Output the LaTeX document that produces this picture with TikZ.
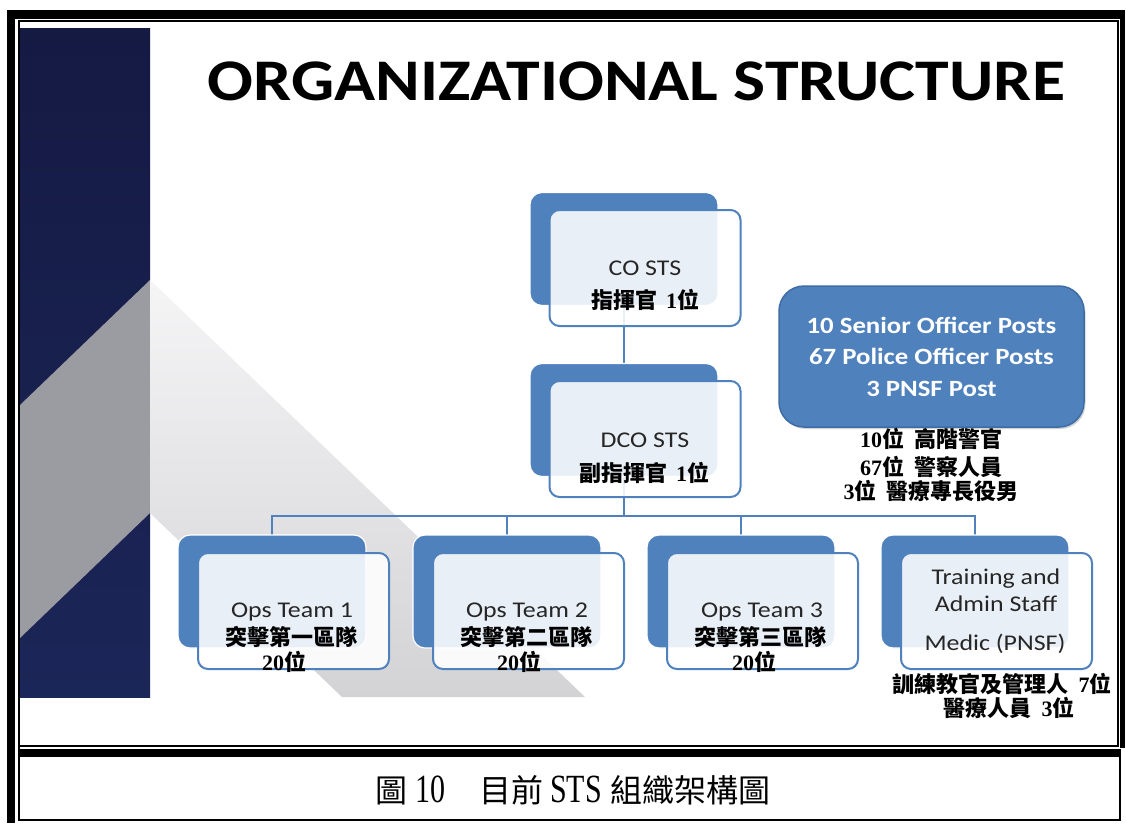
\documentclass[tikz,border=0pt]{standalone}
\usepackage{fontspec}
\usetikzlibrary{shadows}
\setmainfont{Liberation Serif}
\newfontfamily\calib[FakeStretch=1.15]{Carlito}
\newfontfamily\zhf{Noto Sans CJK TC}
\newfontfamily\tms{Liberation Serif}
\newfontfamily\capl[FakeStretch=0.75]{Liberation Serif}
\definecolor{blueA}{HTML}{4F81BD}
\definecolor{bigedge}{HTML}{3E6DA6}
\definecolor{navyT}{HTML}{151A43}
\definecolor{navyB}{HTML}{1B2658}
\definecolor{midgray}{HTML}{9B9CA1}
\definecolor{lgT}{HTML}{F5F5F6}
\definecolor{lgB}{HTML}{D3D3D6}
\definecolor{txt}{HTML}{262626}
\pgfdeclarelayer{slidebg}
\pgfdeclarelayer{links}
\pgfsetlayers{slidebg,links,main}
\newcommand{\nb}[1]{{\tms\bfseries #1}}
\begin{document}
\begin{tikzpicture}[x=1pt,y=-1pt,
  backbox/.style={fill=blueA, draw=white, line width=1.2pt, rounded corners=12pt,
    minimum width=188pt, minimum height=113pt, inner sep=0pt},
  frontbox/.style={fill=white, fill opacity=0.88, draw=blueA, line width=2pt,
    rounded corners=10pt, minimum width=191pt, minimum height=116pt, inner sep=0pt},
  conn/.style={draw=blueA, line width=2.2pt},
  lat/.style={font=\calib\fontsize{22.5}{27}\selectfont, text=txt, inner sep=0pt, anchor=base},
  cjk/.style={font=\zhf\bfseries\fontsize{22}{26}\selectfont, text=black, inner sep=0pt, anchor=base},
  bigbox/.style={fill=blueA, draw=bigedge, line width=1.5pt, rounded corners=25pt,
    minimum width=305pt, minimum height=141pt, inner sep=0pt, align=center, text=white,
    font=\calib\bfseries\fontsize{23.3}{31.5}\selectfont,
    drop shadow={opacity=0.35, shadow xshift=1.5pt, shadow yshift=-2pt}},
  frameline/.style={draw=black, line width=2pt}
]
\useasboundingbox (0,0) rectangle (1126,823);

% ---------- slide background ----------
\begin{pgfonlayer}{slidebg}
  \fill[white] (0,0) rectangle (1126,823);
  \shade[top color=navyT, bottom color=navyB] (20,28) rectangle (150,697);
  \fill[midgray] (150,280) -- (150,513) -- (20,638) -- (20,405) -- cycle;
  \shade[top color=lgT, bottom color=lgB] (150,280) -- (585,697) -- (342,697) -- (150,513) -- cycle;
\end{pgfonlayer}

% ---------- title ----------
\node[font=\calib\bfseries\fontsize{59}{61}\selectfont, text=black, inner sep=0pt, anchor=base] (title) at (636.5,100) {ORGANIZATIONAL STRUCTURE};

% ---------- boxes ----------
\node[backbox] (cob) at (624,249) {};
\node[frontbox] (cof) at (645,268) {};
\node[backbox] (dcob) at (624,420) {};
\node[frontbox] (dcof) at (645,439) {};

\node[backbox] (o1b) at (272,591.5) {};
\node[frontbox] (o1f) at (293.5,611) {};
\node[backbox] (o2b) at (507,591.5) {};
\node[frontbox] (o2f) at (528.5,611) {};
\node[backbox] (o3b) at (741,591.5) {};
\node[frontbox] (o3f) at (762.5,611) {};
\node[backbox] (o4b) at (975,591.5) {};
\node[frontbox] (o4f) at (996.5,611) {};

\node[bigbox] (sum) at (931.5,356.5) {10 Senior Officer Posts\\67 Police Officer Posts\\3 PNSF Post};

% ---------- connectors ----------
\coordinate (bus) at (624,516);
\begin{pgfonlayer}{links}
  \draw[conn] (cob.center) -- (dcob.center);
  \draw[conn] (dcob.center) -- (bus);
  \draw[conn] (o1b.center) |- (bus);
  \draw[conn] (o4b.center) |- (bus);
  \draw[conn] (o2b.center) -- (o2b.center |- bus);
  \draw[conn] (o3b.center) -- (o3b.center |- bus);
\end{pgfonlayer}

% ---------- texts ----------
\node[lat] (cot1) at (645,275) {CO STS};
\node[cjk] (cot2) at (645,308) {指揮官\hspace{9pt}\nb{1}位};
\node[lat] (dcot1) at (645,447) {DCO STS};
\node[cjk] (dcot2) at (644,481) {副指揮官\hspace{9pt}\nb{1}位};

\node[lat] (o1t1) at (292,617) {Ops Team 1};
\node[cjk] (o1t2) at (291,645) {突擊第一區隊};
\node[cjk] (o1t3) at (284,670) {\nb{20}位};
\node[lat] (o2t1) at (527,617) {Ops Team 2};
\node[cjk] (o2t2) at (526,645) {突擊第二區隊};
\node[cjk] (o2t3) at (519,670) {\nb{20}位};
\node[lat] (o3t1) at (762,617) {Ops Team 3};
\node[cjk] (o3t2) at (760,645) {突擊第三區隊};
\node[cjk] (o3t3) at (754,670) {\nb{20}位};

\node[lat] (o4t1) at (996,584) {Training and};
\node[lat] (o4t2) at (996,611) {Admin Staff};
\node[lat] (o4t3) at (995,650) {Medic (PNSF)};
\node[cjk] (o4t4) at (1002,692) {訓練教官及管理人\hspace{10pt}\nb{7}位};
\node[cjk] (o4t5) at (1009,716) {醫療人員\hspace{10pt}\nb{3}位};

\node[cjk] (s1) at (931,447) {\nb{10}位\hspace{10pt}高階警官};
\node[cjk] (s2) at (931,475) {\nb{67}位\hspace{10pt}警察人員};
\node[cjk] (s3) at (931,499) {\nb{3}位\hspace{10pt}醫療專長役男};

% ---------- frame ----------
\fill[black] (7,10) rectangle (15,823);
\fill[black] (7,10) rectangle (1125,19);
\fill[black] (1120,10) rectangle (1125,748);
\fill[black] (18,749) rectangle (1121,757);
\draw[frameline] (19,21) -- (1118,21) -- (1118,746) -- (19,746) -- cycle;
\draw[frameline] (19,746) -- (19,820) -- (1120,820) -- (1120,757);

% ---------- caption ----------
\node[inner sep=0pt, anchor=base west, text=black] (cap) at (375,802)
  {{\zhf\fontsize{32}{34}\selectfont 圖}\hspace{8pt}{\capl\fontsize{40}{42}\selectfont 10}\hspace{34pt}{\zhf\fontsize{32}{34}\selectfont 目前}\hspace{7pt}{\capl\fontsize{40}{42}\selectfont STS}\hspace{9pt}{\zhf\fontsize{32}{34}\selectfont 組織架構圖}};
\end{tikzpicture}
\end{document}
